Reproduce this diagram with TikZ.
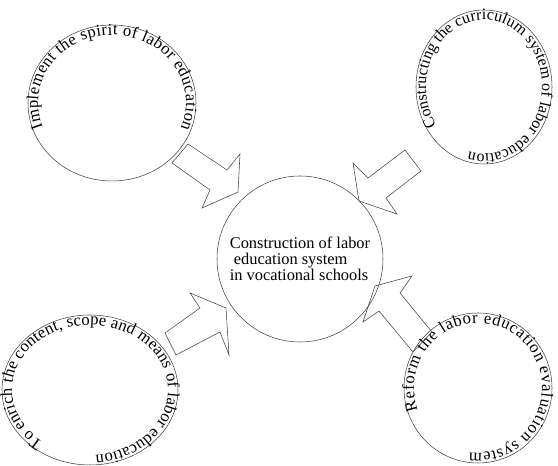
\documentclass[tikz,border=0pt]{standalone}
\usepackage{fontspec}
\setmainfont{Liberation Serif}
\usepackage{tikz}
\usetikzlibrary{shapes.geometric,decorations.text}

\begin{document}
\begin{tikzpicture}[x=0.75pt,y=0.75pt,thin,
  ring/.style={draw=black!75,ellipse,inner sep=0pt,line width=0.4pt},
  blockarrow/.style={draw=black!75,line width=0.4pt,line join=miter},
  ringtext/.style 2 args={decorate,decoration={text along path,text align={fit to path},
      text={|\fontsize{#1}{14}\selectfont|#2}}}]

    \useasboundingbox (0,0) rectangle (558,466);

    % The rings
	\node [ring,minimum width=126pt,minimum height=117pt] at (112,363) (spirit) {};
	\node [ring,minimum width=102pt,minimum height=115.5pt] at (484,379) (curriculum) {};
	\node [ring,minimum width=132pt,minimum height=112.5pt] at (90,76) (content) {};
	\node [ring,minimum width=111pt,minimum height=112.5pt] at (478,78) (evaluation) {};

	\node [ring,circle,minimum size=124.5pt,align=left,font=\fontsize{12.3}{11.8}\selectfont] at (300,207) (core)
	{Construction of labor\\ \ education system\\in vocational schools};

    % Texts on the rings
	\path [ringtext={12.5}{Implement the spirit of labor education}]
	(spirit.center) ++(201:74 and 68) arc[start angle=201,end angle=-22,x radius=74,y radius=68];
	\path [ringtext={12}{Constructing the curriculum system of labor education}]
	(curriculum.center) ++(215:58 and 67) arc[start angle=215,end angle=-105,x radius=58,y radius=67];
	\path [ringtext={12.5}{To enrich the content, scope and means of labor education}]
	(content.center) ++(233:78 and 65) arc[start angle=233,end angle=-86,x radius=78,y radius=65];
	\path [ringtext={12.5}{Reform the labor education evaluation system}]
	(evaluation.center) ++(200:64 and 65) arc[start angle=200,end angle=-98,x radius=64,y radius=65];

    % Block arrows
	\draw [blockarrow] (188,322) -- (227,296) -- (240,312) -- (238,274) -- (202,258) -- (210,276) -- (172,303) -- cycle;
	\draw [blockarrow] (405,316) -- (368,288) -- (353,303) -- (359,265) -- (397,252) -- (386,268) -- (421,295) -- cycle;
	\draw [blockarrow] (165,133) -- (200,158) -- (190,173) -- (226,158) -- (229,111) -- (220,134) -- (176,111) -- cycle;
	\draw [blockarrow] (432,134) -- (400,173) -- (412,190) -- (375,180) -- (363,144) -- (379,155) -- (413,114) -- cycle;

\end{tikzpicture}
\end{document}
